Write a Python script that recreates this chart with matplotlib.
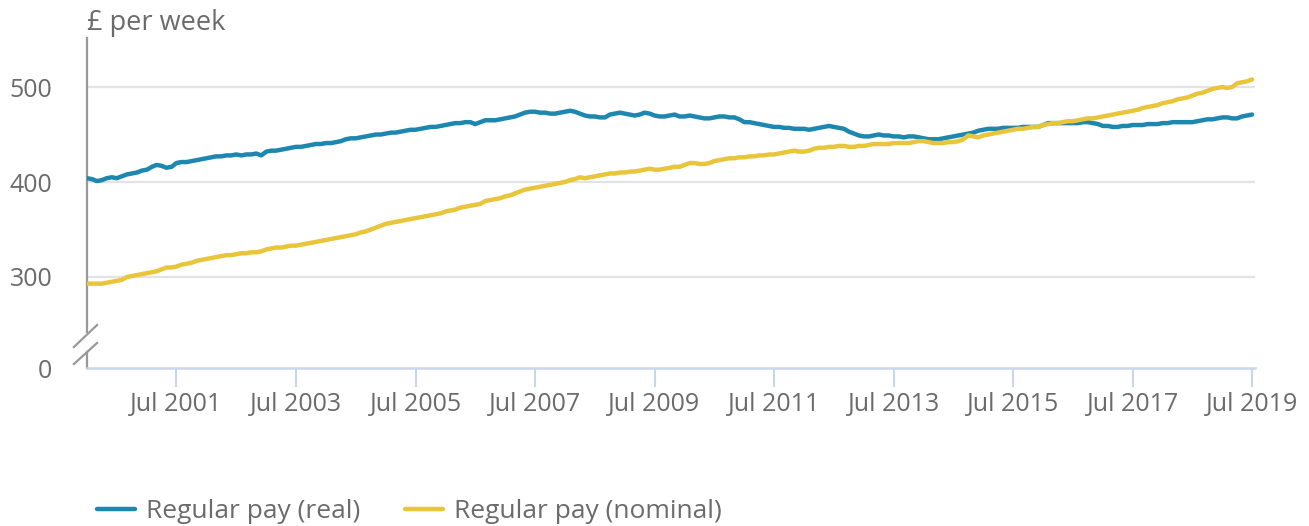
import numpy as np
import pandas as pd
import matplotlib
matplotlib.use("Agg")
import matplotlib.pyplot as plt

plt.rcParams['font.family'] = ['Open Sans', 'DejaVu Sans']

# Monthly regular pay, Jan 2000 - Jul 2019 (GBP per week)
real_pay = [
    404, 403, 401, 402, 404, 405, 404, 406, 408, 409, 410, 412,   # 2000
    413, 416, 418, 417, 415, 416, 420, 421, 421, 422, 423, 424,   # 2001
    425, 426, 427, 427, 428, 428, 429, 428, 429, 429, 430, 428,   # 2002
    432, 433, 433, 434, 435, 436, 437, 437, 438, 439, 440, 440,   # 2003
    441, 441, 442, 443, 445, 446, 446, 447, 448, 449, 450, 450,   # 2004
    451, 452, 452, 453, 454, 455, 455, 456, 457, 458, 458, 459,   # 2005
    460, 461, 462, 462, 463, 463, 461, 463, 465, 465, 465, 466,   # 2006
    467, 468, 469, 471, 473, 474, 474, 473, 473, 472, 472, 473,   # 2007
    474, 475, 474, 472, 470, 469, 469, 468, 468, 471, 472, 473,   # 2008
    472, 471, 470, 471, 473, 472, 470, 469, 469, 470, 471, 469,   # 2009
    469, 470, 469, 468, 467, 467, 468, 469, 469, 468, 468, 466,   # 2010
    463, 463, 462, 461, 460, 459, 458, 458, 457, 457, 456, 456,   # 2011
    456, 455, 456, 457, 458, 459, 458, 457, 456, 453, 451, 449,   # 2012
    448, 448, 449, 450, 449, 449, 448, 448, 447, 448, 448, 447,   # 2013
    446, 445, 445, 445, 446, 447, 448, 449, 450, 451, 452, 454,   # 2014
    455, 456, 456, 456, 457, 457, 457, 457, 458, 458, 458, 458,   # 2015
    460, 462, 462, 462, 462, 462, 462, 462, 463, 463, 462, 461,   # 2016
    459, 459, 458, 458, 459, 459, 460, 460, 460, 461, 461, 461,   # 2017
    462, 462, 463, 463, 463, 463, 463, 464, 465, 466, 466, 467,   # 2018
    468, 468, 467, 467, 469, 470, 471,                            # 2019
]

nominal_pay = [
    293, 293, 293, 293, 294, 295, 296, 297, 300, 301, 302, 303,   # 2000
    304, 305, 306, 308, 310, 310, 311, 313, 314, 315, 317, 318,   # 2001
    319, 320, 321, 322, 323, 323, 324, 325, 325, 326, 326, 327,   # 2002
    329, 330, 331, 331, 332, 333, 333, 334, 335, 336, 337, 338,   # 2003
    339, 340, 341, 342, 343, 344, 345, 347, 348, 350, 352, 354,   # 2004
    356, 357, 358, 359, 360, 361, 362, 363, 364, 365, 366, 367,   # 2005
    369, 370, 371, 373, 374, 375, 376, 377, 380, 381, 382, 383,   # 2006
    385, 386, 388, 390, 392, 393, 394, 395, 396, 397, 398, 399,   # 2007
    400, 402, 403, 405, 404, 405, 406, 407, 408, 409, 409, 410,   # 2008
    410, 411, 411, 412, 413, 414, 413, 413, 414, 415, 416, 416,   # 2009
    418, 420, 420, 419, 419, 420, 422, 423, 424, 425, 425, 426,   # 2010
    426, 427, 427, 428, 428, 429, 429, 430, 431, 432, 433, 432,   # 2011
    432, 433, 435, 436, 436, 437, 437, 438, 438, 437, 437, 438,   # 2012
    438, 439, 440, 440, 440, 440, 441, 441, 441, 441, 442, 443,   # 2013
    443, 442, 441, 441, 441, 442, 442, 443, 445, 449, 448, 447,   # 2014
    449, 450, 451, 452, 453, 454, 455, 456, 456, 457, 458, 458,   # 2015
    460, 461, 462, 462, 463, 464, 464, 465, 466, 467, 467, 468,   # 2016
    469, 470, 471, 472, 473, 474, 475, 476, 478, 479, 480, 481,   # 2017
    483, 484, 485, 487, 488, 489, 491, 493, 494, 496, 498, 499,   # 2018
    500, 499, 500, 504, 505, 506, 508,                            # 2019
]

months = pd.date_range("2000-01-01", periods=len(real_pay), freq="MS")
tick_dates = pd.date_range("2001-07-01", "2019-07-01", freq="24MS")
tick_labels = [d.strftime("Jul %Y") for d in tick_dates]

blue = "#1d87b0"
yellow = "#e9c53c"
text_col = "#6b6b6b"
axis_blue = "#c9d6ea"

fig = plt.figure(figsize=(13.09, 5.26), dpi=100)
ax = fig.add_axes([87/1309, 1 - 368/526, (1255 - 87)/1309, 330/526])

ax.plot(months, real_pay, color=blue, lw=3.2, solid_capstyle='round',
        label="Regular pay (real)", zorder=3)
ax.plot(months, nominal_pay, color=yellow, lw=3.2, solid_capstyle='round',
        label="Regular pay (nominal)", zorder=3)

# broken y axis: the "0" tick sits just below the break
zero_pos = 204.2
ax.set_ylim(zero_pos, 551.6)
ax.set_xlim(pd.Timestamp("2000-01-01"), pd.Timestamp("2019-07-19"))

for v in (300, 400, 500):
    ax.axhline(v, color="#e3e3e3", lw=1.6, zorder=1)

ax.set_yticks([zero_pos, 300, 400, 500])
ax.set_yticklabels(["0", "300", "400", "500"])
ax.tick_params(axis='y', length=0, pad=25, labelsize=18, labelcolor=text_col)

ax.set_xticks(tick_dates)
ax.set_xticklabels(tick_labels)
ax.tick_params(axis='x', length=14, width=1.5, color=axis_blue, pad=3,
               labelsize=18, labelcolor=text_col)

for s in ('top', 'right', 'left'):
    ax.spines[s].set_visible(False)
ax.spines['bottom'].set_color(axis_blue)
ax.spines['bottom'].set_linewidth(1.8)

# left axis drawn in two pieces with break marks
grey = "#999999"
kw = dict(transform=ax.transAxes, clip_on=False, color=grey, lw=1.6)
ax.plot([0, 0], [0.109, 1.0], **kw)
ax.plot([0, 0], [0.0, 0.048], **kw)
ax.plot([-0.0112, 0.0086], [0.0636, 0.1303], **kw)
ax.plot([-0.0112, 0.0086], [0.0121, 0.0758], **kw)

fig.text(87/1309, 1 - 30/526, "£ per week", fontsize=19.5, color=text_col,
         ha='left', va='baseline')

fig.legend(loc='center left', bbox_to_anchor=(97/1309, 1 - 512/526), ncol=2,
           frameon=False, fontsize=19, labelcolor=text_col,
           handlelength=1.45, handletextpad=0.4, columnspacing=1.7,
           borderaxespad=0, borderpad=0)

fig.savefig("out.png", dpi=100)
